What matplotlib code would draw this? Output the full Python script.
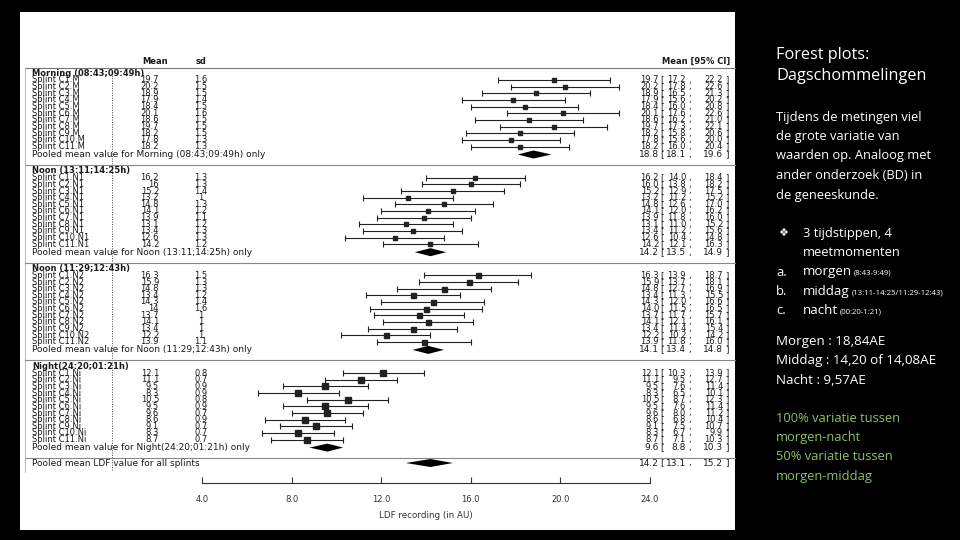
import matplotlib
matplotlib.use('Agg')
import matplotlib.pyplot as plt
from matplotlib.patches import Rectangle
from matplotlib.ticker import FormatStrFormatter

plt.rcParams['font.family'] = ['DejaVu Sans']

# ---- data ----
groups = ["Morning (08:43;09:49h)", "Noon (13:11;14:25h)", "Noon (11:29;12:43h)", "Night(24:20;01:21h)"]
suffix = ["M", "N1", "N2", "Ni"]
pooled_labels = ["Pooled mean value for Morning (08:43;09:49h) only",
                 "Pooled mean value for Noon (13:11;14:25h) only",
                 "Pooled mean value for Noon (11:29;12:43h) only",
                 "Pooled mean value for Night(24:20;01:21h) only"]

morning_mean = [19.7, 20.2, 18.9, 17.9, 18.4, 20.1, 18.6, 19.7, 18.2, 17.8, 18.2]
morning_sd = [1.6, 1.5, 1.5, 1.4, 1.5, 1.6, 1.5, 1.5, 1.5, 1.3, 1.3]
morning_lo = [17.2, 17.8, 16.5, 15.6, 16.0, 17.6, 16.2, 17.3, 15.8, 15.6, 16.0]
morning_hi = [22.2, 22.6, 21.3, 20.2, 20.8, 22.6, 21.0, 22.1, 20.6, 20.0, 20.4]
morning_pooled = [18.8, 18.1, 19.6]

noon1_mean = [16.2, 16.0, 15.2, 13.2, 14.8, 14.1, 13.9, 13.1, 13.4, 12.6, 14.2]
noon1_sd = [1.3, 1.3, 1.4, 1.0, 1.3, 1.2, 1.1, 1.2, 1.3, 1.3, 1.2]
noon1_lo = [14.0, 13.8, 12.9, 11.2, 12.6, 12.0, 11.8, 11.0, 11.2, 10.4, 12.1]
noon1_hi = [18.4, 18.2, 17.5, 15.2, 17.0, 16.2, 16.0, 15.2, 15.6, 14.8, 16.3]
noon1_pooled = [14.2, 13.5, 14.9]

noon2_mean = [16.3, 15.9, 14.8, 13.4, 14.3, 14.0, 13.7, 14.1, 13.4, 12.2, 13.9]
noon2_sd = [1.5, 1.3, 1.3, 1.2, 1.4, 1.6, 1.0, 1.0, 1.0, 1.0, 1.1]
noon2_lo = [13.9, 13.7, 12.7, 11.3, 12.0, 11.5, 11.7, 12.1, 11.4, 10.2, 11.8]
noon2_hi = [18.7, 18.1, 16.9, 15.5, 16.6, 16.5, 15.7, 16.1, 15.4, 14.2, 16.0]
noon2_pooled = [14.1, 13.4, 14.8]

night_mean = [12.1, 11.1, 9.5, 8.3, 10.5, 9.5, 9.6, 8.6, 9.1, 8.3, 8.7]
night_sd = [0.8, 0.7, 0.9, 0.9, 0.8, 0.9, 0.7, 0.9, 0.7, 0.7, 0.7]
night_lo = [10.3, 9.5, 7.6, 6.5, 8.7, 7.6, 8.0, 6.8, 7.5, 6.7, 7.1]
night_hi = [13.9, 12.7, 11.4, 10.1, 12.3, 11.4, 11.2, 10.4, 10.7, 9.9, 10.3]
night_pooled = [9.6, 8.8, 10.3]

all_label = "Pooled mean LDF value for all splints"
all_pooled = [14.2, 13.1, 15.2]

xticks = [4, 8, 12, 16, 20, 24]

means = [morning_mean, noon1_mean, noon2_mean, night_mean]
sds = [morning_sd, noon1_sd, noon2_sd, night_sd]
los = [morning_lo, noon1_lo, noon2_lo, night_lo]
his = [morning_hi, noon1_hi, noon2_hi, night_hi]
pooled = [morning_pooled, noon1_pooled, noon2_pooled, night_pooled]
msize = [2.6, 3.4, 3.6, 4.6]

W, H = 960, 540
fig = plt.figure(figsize=(9.6, 5.4), dpi=100, facecolor='black')
fig.patches.append(Rectangle((20 / W, 1 - 530 / H), 715 / W, 518 / H,
                             transform=fig.transFigure, facecolor='white', edgecolor='none', zorder=-10))

# axes covering the whole slide: x in LDF units (4 -> 202px, 24 -> 650px), y in pixel rows
ppu = (650 - 202) / 20.0
x0 = 4 - 202 / ppu
ax = fig.add_axes([0, 0, 1, 1])
ax.set_zorder(5)
ax.set_xlim(x0, x0 + W / ppu)
ax.set_ylim(H, 0)
ax.patch.set_visible(False)
for s in ['top', 'left', 'right']:
    ax.spines[s].set_visible(False)
ax.spines['bottom'].set_position(('data', 483))
ax.spines['bottom'].set_bounds(4, 24)
ax.spines['bottom'].set_color('#333333')
ax.spines['bottom'].set_linewidth(0.8)
ax.set_xticks(xticks)
ax.xaxis.set_major_formatter(FormatStrFormatter('%.1f'))
ax.tick_params(axis='x', direction='in', length=4, width=0.8, labelsize=6, pad=9,
               colors='#333333', labelcolor='#333333')
ax.yaxis.set_visible(False)
ax.text(14, 515, "LDF recording (in AU)", fontsize=6.3, ha='center', va='center', color='#333333')

tr = ax.get_yaxis_transform()
fx = lambda px: px / W
tc = '#1a1a1a'
fs = 6.0
fsp = 6.5

# header
ax.text(fx(155), 61, "Mean", fontsize=fs, fontweight='bold', ha='center', va='center', color=tc, transform=tr)
ax.text(fx(201), 61, "sd", fontsize=fs, fontweight='bold', ha='center', va='center', color=tc, transform=tr)
ax.text(fx(730), 61, "Mean [95% CI]", fontsize=fs, fontweight='bold', ha='right', va='center', color=tc, transform=tr)
ax.axhline(68, xmin=fx(25), xmax=fx(735), color='#777777', lw=0.8)
ax.axvline(0, ymin=1 - 470 / H, ymax=1 - 70 / H, color='#444444', lw=0.7, ls=(0, (1, 1.5)))
ax.axvline(x0 + 25 / ppu, ymin=1 - 472 / H, ymax=1 - 68 / H, color='#aaaaaa', lw=0.6)


def ci_text(y, m, lo, hi, size):
    ax.text(fx(659), y, f"{m:.1f}", fontsize=size, ha='right', va='center', color=tc, transform=tr)
    ax.text(fx(660), y, "[", fontsize=size, ha='left', va='center', color=tc, transform=tr)
    ax.text(fx(686), y, f"{lo:.1f}", fontsize=size, ha='right', va='center', color=tc, transform=tr)
    ax.text(fx(688), y, ",", fontsize=size, ha='left', va='center', color=tc, transform=tr)
    ax.text(fx(723), y, f"{hi:.1f}", fontsize=size, ha='right', va='center', color=tc, transform=tr)
    ax.text(fx(725), y, "]", fontsize=size, ha='left', va='center', color=tc, transform=tr)


def diamond(y, m, lo, hi):
    ax.fill([lo, m, hi, m], [y, y - 4, y, y + 4], color='black', lw=0)


for g in range(4):
    hy = 73 + g * 97.7
    ax.text(fx(32), hy, groups[g], fontsize=fs, fontweight='bold', ha='left', va='center', color=tc, transform=tr)
    for i in range(11):
        y = hy + 7 + i * 6.65
        m, lo, hi = means[g][i], los[g][i], his[g][i]
        ax.text(fx(32), y, f"Splint C{i + 1}.{suffix[g]}", fontsize=fs, ha='left', va='center', color=tc, transform=tr)
        ax.text(fx(159), y, f"{m:g}", fontsize=fs, ha='right', va='center', color=tc, transform=tr)
        ax.text(fx(201), y, f"{sds[g][i]:g}", fontsize=fs, ha='center', va='center', color=tc, transform=tr)
        ci_text(y, m, lo, hi, fs)
        ax.errorbar(m, y, xerr=[[m - lo], [hi - m]], fmt='s', color='#222222', ms=msize[g],
                    elinewidth=0.8, capsize=2.2, capthick=0.8)
    py = hy + 81.5
    pm, plo, phi = pooled[g]
    ax.text(fx(32), py, pooled_labels[g], fontsize=fsp, ha='left', va='center', color=tc, transform=tr)
    ci_text(py, pm, plo, phi, fsp)
    diamond(py, pm, plo, phi)
    ax.axhline(hy + 92, xmin=fx(25), xmax=fx(735), color='#888888', lw=0.8)

ay = 463
ax.text(fx(32), ay, all_label, fontsize=fsp, ha='left', va='center', color=tc, transform=tr)
ci_text(ay, *all_pooled, fsp)
diamond(ay, *all_pooled)

# ---- slide text on the right ----
fy = lambda py: 1 - py / H
font = 'Open Sans'
white = '#ffffff'
green = '#8cc063'
fig.text(fx(776), fy(55), "Forest plots:", fontsize=11.7, color=white, family=font, va='center')
fig.text(fx(776), fy(76), "Dagschommelingen", fontsize=11.7, color=white, family=font, va='center')
body = ["Tijdens de metingen viel", "de grote variatie van", "waarden op. Analoog met",
        "ander onderzoek (BD) in", "de geneeskunde."]
for k, line in enumerate(body):
    fig.text(fx(776), fy(117 + k * 19.5), line, fontsize=9.3, color=white, family=font, va='center')

fig.text(fx(778), fy(233), "\u2756", fontsize=8, color=white, family='DejaVu Sans', va='center')
fig.text(fx(803), fy(233), "3 tijdstippen, 4", fontsize=9.3, color=white, family=font, va='center')
fig.text(fx(803), fy(253), "meetmomenten", fontsize=9.3, color=white, family=font, va='center')

renderer = fig.canvas.get_renderer()
items = [("a.", "morgen", "(8:43-9:49)"),
         ("b.", "middag", "(13:11-14:25/11:29-12:43)"),
         ("c.", "nacht", "(00:20-1:21)")]
for k, (lett, word, small) in enumerate(items):
    y = fy(272 + k * 19.5)
    fig.text(fx(776), y, lett, fontsize=9.3, color=white, family=font, va='center')
    t = fig.text(fx(803), y, word, fontsize=9.6, color=white, family=font, va='center')
    bb = t.get_window_extent(renderer)
    fig.text(bb.x1 / W + 2 / W, y - 1 / H, small, fontsize=5.6, color=white, family=font, va='center')

stats = ["Morgen : 18,84AE", "Middag : 14,20 of 14,08AE", "Nacht : 9,57AE"]
for k, line in enumerate(stats):
    fig.text(fx(776), fy(341 + k * 19.5), line, fontsize=9.6, color=white, family=font, va='center')

notes = ["100% variatie tussen", "morgen-nacht", "50% variatie tussen", "morgen-middag"]
for k, line in enumerate(notes):
    fig.text(fx(776), fy(418 + k * 19.5), line, fontsize=9.3, color=green, family=font, va='center')

fig.savefig('out.png', dpi=100, facecolor='black')
